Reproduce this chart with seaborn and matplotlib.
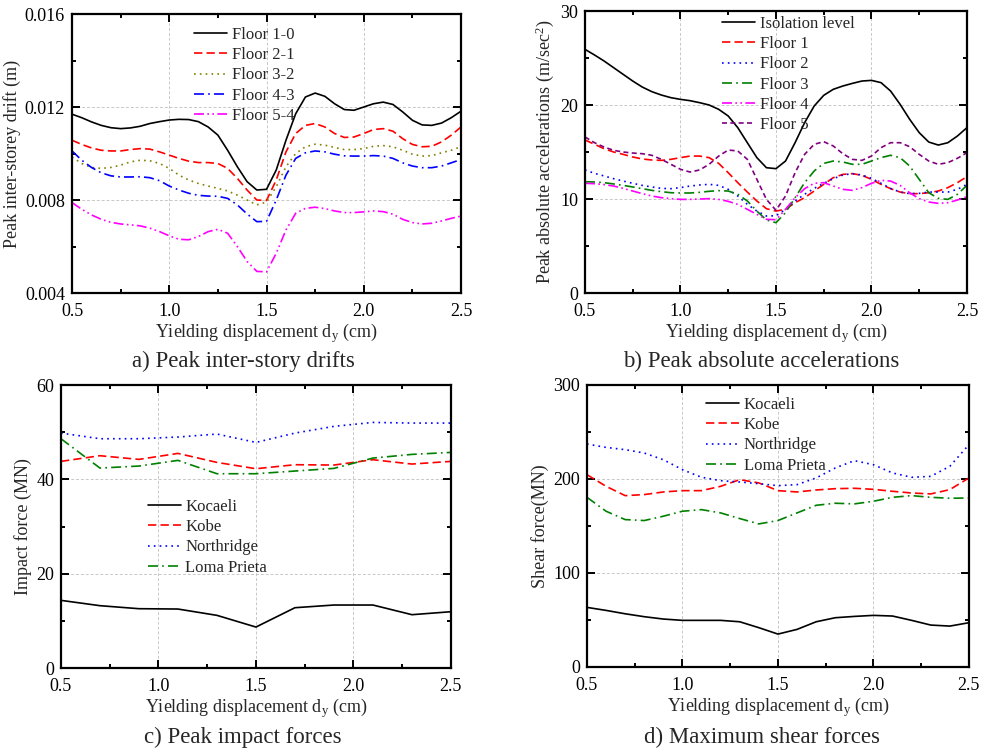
import numpy as np
import pandas as pd
import matplotlib
matplotlib.use("Agg")
import matplotlib.pyplot as plt
from matplotlib.ticker import MultipleLocator, FormatStrFormatter
import seaborn as sns

# ---------------- data ----------------
x_fine = [0.5, 0.55, 0.6, 0.65, 0.7, 0.75, 0.8, 0.85, 0.9, 0.95, 1.0, 1.05, 1.1, 1.15, 1.2,
          1.25, 1.3, 1.35, 1.4, 1.45, 1.5, 1.55, 1.6, 1.65, 1.7, 1.75, 1.8, 1.85, 1.9, 1.95,
          2.0, 2.05, 2.1, 2.15, 2.2, 2.25, 2.3, 2.35, 2.4, 2.45, 2.5]

# a) peak inter-storey drift (m)
drift_floor_1_0 = [0.01169, 0.01154, 0.01136, 0.01121, 0.01111, 0.01107, 0.01110, 0.01117, 0.01129, 0.01137,
                   0.01144, 0.01147, 0.01146, 0.01137, 0.01114, 0.01079, 0.01014, 0.00943, 0.00879, 0.00843,
                   0.00846, 0.00929, 0.01057, 0.01171, 0.01243, 0.01260, 0.01246, 0.01214, 0.01189, 0.01186,
                   0.01200, 0.01214, 0.01221, 0.01211, 0.01179, 0.01143, 0.01123, 0.01121, 0.01131, 0.01154,
                   0.01182]
drift_floor_2_1 = [0.01057, 0.01039, 0.01024, 0.01014, 0.01011, 0.01011, 0.01017, 0.01021, 0.01019, 0.01007,
                   0.00993, 0.00979, 0.00967, 0.00961, 0.00961, 0.00957, 0.00936, 0.00893, 0.00843, 0.00800,
                   0.00798, 0.00886, 0.01007, 0.01086, 0.01121, 0.01129, 0.01114, 0.01086, 0.01069, 0.01071,
                   0.01086, 0.01103, 0.01107, 0.01096, 0.01064, 0.01039, 0.01029, 0.01031, 0.01050, 0.01079,
                   0.01114]
drift_floor_3_2 = [0.00985, 0.00957, 0.00940, 0.00936, 0.00940, 0.00950, 0.00964, 0.00971, 0.00969, 0.00957,
                   0.00936, 0.00907, 0.00886, 0.00871, 0.00860, 0.00850, 0.00839, 0.00821, 0.00800, 0.00779,
                   0.00791, 0.00857, 0.00943, 0.01000, 0.01029, 0.01040, 0.01036, 0.01026, 0.01017, 0.01017,
                   0.01021, 0.01031, 0.01034, 0.01029, 0.01014, 0.00997, 0.00989, 0.00991, 0.01003, 0.01014,
                   0.01029]
drift_floor_4_3 = [0.01011, 0.00971, 0.00940, 0.00917, 0.00904, 0.00899, 0.00899, 0.00900, 0.00896, 0.00883,
                   0.00860, 0.00843, 0.00829, 0.00820, 0.00817, 0.00816, 0.00807, 0.00779, 0.00740, 0.00707,
                   0.00708, 0.00800, 0.00907, 0.00979, 0.01003, 0.01011, 0.01007, 0.00997, 0.00990, 0.00989,
                   0.00989, 0.00991, 0.00989, 0.00979, 0.00960, 0.00946, 0.00939, 0.00939, 0.00946, 0.00960,
                   0.00974]
drift_floor_5_4 = [0.00789, 0.00760, 0.00736, 0.00717, 0.00704, 0.00697, 0.00693, 0.00689, 0.00679, 0.00664,
                   0.00646, 0.00631, 0.00629, 0.00643, 0.00664, 0.00674, 0.00657, 0.00600, 0.00536, 0.00493,
                   0.00491, 0.00571, 0.00671, 0.00743, 0.00764, 0.00769, 0.00763, 0.00753, 0.00746, 0.00746,
                   0.00749, 0.00753, 0.00750, 0.00739, 0.00717, 0.00703, 0.00697, 0.00700, 0.00710, 0.00721,
                   0.00731]

# b) peak absolute accelerations (m/s^2)
acc_isolation = [25.92, 25.32, 24.68, 23.97, 23.26, 22.55, 21.91, 21.42, 21.06, 20.78,
                 20.60, 20.46, 20.25, 20.00, 19.54, 18.83, 17.59, 15.99, 14.40, 13.33,
                 13.23, 14.04, 15.99, 18.12, 19.89, 21.03, 21.67, 22.02, 22.30, 22.55,
                 22.62, 22.38, 21.49, 20.07, 18.48, 17.06, 16.06, 15.74, 15.99, 16.70,
                 17.59]
acc_floor1 = [16.28, 15.82, 15.35, 15.00, 14.75, 14.47, 14.26, 14.15, 14.11, 14.22,
              14.40, 14.57, 14.57, 14.40, 13.79, 12.80, 11.74, 10.74, 9.79, 8.97,
              8.72, 8.90, 9.61, 10.14, 10.85, 11.56, 12.27, 12.62, 12.70, 12.52,
              12.09, 11.56, 11.10, 10.74, 10.57, 10.57, 10.67, 10.85, 11.21, 11.74,
              12.38]
acc_floor2 = [13.09, 12.73, 12.45, 12.16, 11.91, 11.67, 11.45, 11.28, 11.13, 11.10,
              11.21, 11.38, 11.49, 11.56, 11.45, 11.03, 10.32, 9.43, 8.72, 8.19,
              8.22, 8.90, 9.79, 10.50, 11.13, 11.67, 12.16, 12.55, 12.70, 12.55,
              12.20, 11.67, 11.13, 10.74, 10.57, 10.60, 10.74, 10.74, 10.74, 11.03,
              11.56]
acc_floor3 = [11.84, 11.81, 11.74, 11.60, 11.45, 11.28, 11.10, 10.92, 10.78, 10.67,
              10.64, 10.64, 10.71, 10.82, 10.89, 10.85, 10.50, 9.79, 8.72, 7.77,
              7.48, 8.55, 10.14, 11.74, 12.98, 13.79, 14.04, 13.94, 13.69, 13.69,
              14.04, 14.40, 14.65, 14.40, 13.51, 12.09, 10.67, 10.07, 9.96, 10.50,
              11.45]
acc_floor4 = [11.67, 11.63, 11.53, 11.38, 11.13, 10.85, 10.57, 10.32, 10.14, 10.04,
              9.96, 9.96, 10.00, 10.04, 9.96, 9.75, 9.43, 8.90, 8.37, 7.84,
              7.80, 8.90, 10.14, 11.10, 11.67, 11.74, 11.38, 11.03, 10.92, 11.21,
              11.67, 11.99, 11.91, 11.45, 10.67, 10.04, 9.68, 9.54, 9.61, 9.89,
              10.25]
acc_floor5 = [16.60, 15.99, 15.53, 15.18, 15.00, 14.89, 14.82, 14.65, 14.22, 13.69,
              13.16, 12.87, 13.09, 13.69, 14.57, 15.21, 15.11, 14.22, 12.09, 9.96,
              8.80, 10.32, 12.80, 14.75, 15.82, 16.10, 15.64, 14.82, 14.22, 14.11,
              14.57, 15.46, 15.99, 15.99, 15.57, 14.75, 14.04, 13.69, 13.87, 14.33,
              14.93]

# c) peak impact forces (MN)
x_impact = [0.5, 0.7, 0.9, 1.1, 1.3, 1.5, 1.7, 1.9, 2.1, 2.3, 2.5]
imp_kocaeli = [14.35, 13.22, 12.58, 12.51, 11.17, 8.69, 12.79, 13.36, 13.36, 11.31, 11.94]
imp_kobe = [43.82, 45.02, 44.24, 45.51, 43.60, 42.26, 43.11, 43.04, 44.17, 43.25, 43.82]
imp_northridge = [49.82, 48.62, 48.62, 48.98, 49.61, 47.84, 49.82, 51.24, 52.08, 51.94, 51.94]
imp_loma = [48.62, 42.40, 42.83, 44.03, 41.20, 41.20, 41.77, 42.33, 44.52, 45.30, 45.72]

# d) maximum shear forces (MN)
x_shear = [0.5, 0.6, 0.7, 0.8, 0.9, 1.0, 1.1, 1.2, 1.3, 1.4, 1.5, 1.6, 1.7, 1.8, 1.9,
           2.0, 2.1, 2.2, 2.3, 2.4, 2.5]
sh_kocaeli = [63.4, 60.2, 56.6, 53.5, 51.0, 49.6, 49.6, 49.6, 48.1, 41.8, 35.0, 40.0, 48.1, 52.4, 53.8,
              54.9, 54.2, 49.6, 44.6, 43.5, 47.1]
sh_kobe = [204.6, 192.2, 182.3, 183.4, 186.2, 187.6, 187.6, 192.2, 199.3, 195.8, 187.6, 186.2, 188.3,
           189.7, 190.1, 189.0, 186.9, 185.1, 184.1, 188.7, 201.1]
sh_northridge = [237.2, 233.6, 231.2, 227.6, 220.5, 209.9, 201.8, 198.2, 196.8, 195.0, 192.9, 194.0,
                 201.1, 211.7, 219.5, 215.2, 206.4, 201.8, 202.8, 213.5, 236.5]
sh_loma = [180.5, 165.7, 156.8, 155.8, 160.4, 165.7, 167.4, 163.9, 157.9, 152.2, 155.8, 163.9, 172.0,
           174.2, 173.5, 176.3, 180.5, 182.3, 180.5, 179.5, 179.8]

xlabel = "Yielding displacement d$_{\\mathrm{y}}$ (cm)"

# ---------------- style ----------------
sns.set_theme(style="ticks")
plt.rcParams["font.family"] = ["Liberation Serif", "DejaVu Serif"]
plt.rcParams["mathtext.fontset"] = "custom"
plt.rcParams["mathtext.rm"] = "Liberation Serif"
plt.rcParams["mathtext.it"] = "Liberation Serif:italic"

FS = 13
fig = plt.figure(figsize=(9.88, 7.49), dpi=100)

ax_a = fig.add_axes([0.0729, 0.6088, 0.3937, 0.3725])
ax_b = fig.add_axes([0.5921, 0.6088, 0.3866, 0.3765])
ax_c = fig.add_axes([0.0617, 0.1081, 0.3947, 0.3778])
ax_d = fig.add_axes([0.5941, 0.1095, 0.3866, 0.3765])

def line(ax, x, y, color, ls, label, lw=1.2):
    sns.lineplot(x=x, y=y, ax=ax, color=color, linestyle=ls, linewidth=lw,
                 label=label, sort=False, estimator=None)

DASH = (0, (5, 2.5))
DOT = (0, (1, 2.5))
DASHDOT = (0, (6, 2.5, 1, 2.5))
DASHDOTDOT = (0, (6, 2, 1, 2, 1, 2))
SHORTDASH = (0, (3, 2))

# a
line(ax_a, x_fine, drift_floor_1_0, "black", "-", "Floor 1-0")
line(ax_a, x_fine, drift_floor_2_1, "#ff0000", DASH, "Floor 2-1")
line(ax_a, x_fine, drift_floor_3_2, "#808000", DOT, "Floor 3-2")
line(ax_a, x_fine, drift_floor_4_3, "#0000ff", DASHDOT, "Floor 4-3")
line(ax_a, x_fine, drift_floor_5_4, "#ff00ff", DASHDOTDOT, "Floor 5-4")

# b
line(ax_b, x_fine, acc_isolation, "black", "-", "Isolation level")
line(ax_b, x_fine, acc_floor1, "#ff0000", DASH, "Floor 1")
line(ax_b, x_fine, acc_floor2, "#0000ff", DOT, "Floor 2")
line(ax_b, x_fine, acc_floor3, "#008000", DASHDOT, "Floor 3")
line(ax_b, x_fine, acc_floor4, "#ff00ff", DASHDOTDOT, "Floor 4")
line(ax_b, x_fine, acc_floor5, "#800080", SHORTDASH, "Floor 5")

# c
line(ax_c, x_impact, imp_kocaeli, "black", "-", "Kocaeli")
line(ax_c, x_impact, imp_kobe, "#ff0000", DASH, "Kobe")
line(ax_c, x_impact, imp_northridge, "#0000ff", DOT, "Northridge")
line(ax_c, x_impact, imp_loma, "#008000", DASHDOT, "Loma Prieta")

# d
line(ax_d, x_shear, sh_kocaeli, "black", "-", "Kocaeli")
line(ax_d, x_shear, sh_kobe, "#ff0000", DASH, "Kobe")
line(ax_d, x_shear, sh_northridge, "#0000ff", DOT, "Northridge")
line(ax_d, x_shear, sh_loma, "#008000", DASHDOT, "Loma Prieta")

def style(ax, ylim, ymaj, ymin, yfmt, ylabel, leg_anchor):
    ax.set_xlim(0.5, 2.5)
    ax.set_ylim(*ylim)
    ax.xaxis.set_major_locator(MultipleLocator(0.5))
    ax.xaxis.set_minor_locator(MultipleLocator(0.25))
    ax.xaxis.set_major_formatter(FormatStrFormatter("%.1f"))
    ax.yaxis.set_major_locator(MultipleLocator(ymaj))
    ax.yaxis.set_minor_locator(MultipleLocator(ymin))
    ax.yaxis.set_major_formatter(FormatStrFormatter(yfmt))
    ax.grid(True, which="major", color="#c8c8c8", linestyle=(0, (3, 2)), linewidth=0.7)
    ax.set_axisbelow(True)
    for s in ax.spines.values():
        s.set_visible(True)
        s.set_linewidth(1.6)
        s.set_color("black")
    ax.tick_params(which="both", direction="in", top=True, right=True,
                   labelsize=FS, colors="black", width=1.4)
    ax.tick_params(axis="x", which="major", pad=7)
    ax.tick_params(axis="y", which="major", pad=5)
    ax.tick_params(which="major", length=6)
    ax.tick_params(which="minor", length=3)
    ax.set_xlabel(xlabel, fontsize=FS, labelpad=1)
    ax.set_ylabel(ylabel, fontsize=FS, labelpad=3)
    leg = ax.legend(loc="upper left", bbox_to_anchor=leg_anchor, frameon=False,
                    fontsize=12, borderpad=0, borderaxespad=0, labelspacing=0.25,
                    handlelength=2.0, handletextpad=0.25)
    return leg

style(ax_a, (0.004, 0.016), 0.004, 0.002, "%.3f", "Peak inter-storey drift (m)", (0.314, 0.953))
style(ax_b, (0, 30), 10, 5, "%d", "Peak absolute accelerations (m/sec$^{2}$)", (0.359, 0.982))
style(ax_c, (0, 60), 20, 10, "%d", "Impact force (MN)", (0.223, 0.597))
style(ax_d, (0, 300), 100, 50, "%d", "Shear force(MN)", (0.312, 0.957))

cap_fs = 16.5
fig.text(243 / 988, 1 - 367 / 749, "a) Peak inter-story drifts", ha="center", va="baseline", fontsize=cap_fs)
fig.text(761 / 988, 1 - 367 / 749, "b) Peak absolute accelerations", ha="center", va="baseline", fontsize=cap_fs)
fig.text(243 / 988, 1 - 743 / 749, "c) Peak impact forces", ha="center", va="baseline", fontsize=cap_fs)
fig.text(762 / 988, 1 - 743 / 749, "d) Maximum shear forces", ha="center", va="baseline", fontsize=cap_fs)

fig.savefig("out.png", dpi=100)
